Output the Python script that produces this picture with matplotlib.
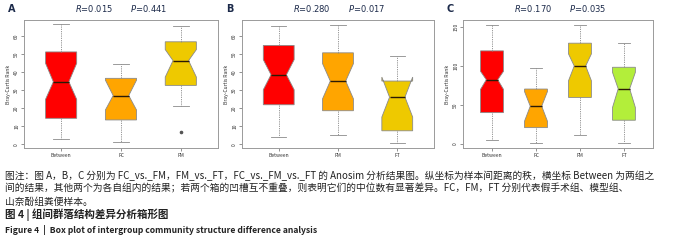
import matplotlib
matplotlib.use("Agg")
import matplotlib.pyplot as plt

plt.rcParams['font.family'] = ['Noto Sans CJK SC', 'DejaVu Sans']

# panel A: FC_vs._FM
a_labels = ["Between", "FC", "FM"]
a_med = [34.6, 27.0, 46.3]
a_q1 = [14.4, 13.5, 32.6]
a_q3 = [51.1, 36.5, 56.7]
a_lo = [2.8, 1.1, 21.0]
a_hi = [66.5, 44.3, 65.4]
a_cilo = [24.9, 19.0, 37.2]
a_cihi = [44.8, 35.5, 52.4]
a_fliers = [[], [], [7.0]]

# panel B: FM_vs._FT
b_labels = ["Between", "FM", "FT"]
b_med = [38.5, 35.0, 26.1]
b_q1 = [21.9, 18.6, 7.5]
b_q3 = [54.7, 50.6, 35.0]
b_lo = [3.9, 5.0, 0.9]
b_hi = [65.2, 66.0, 49.0]
b_cilo = [30.2, 25.2, 15.1]
b_cihi = [46.8, 44.6, 37.2]
b_fliers = [[], [], []]

# panel C: FC_vs._FM_vs._FT
c_labels = ["Between", "FC", "FM", "FT"]
c_med = [82.3, 48.3, 100.0, 70.7]
c_q1 = [40.0, 20.7, 59.5, 30.2]
c_q3 = [119.4, 70.3, 129.3, 98.3]
c_lo = [4.3, 0.4, 11.2, 1.3]
c_hi = [153.0, 97.4, 153.0, 129.3]
c_cilo = [70.0, 29.0, 81.0, 46.5]
c_cihi = [93.0, 67.0, 115.5, 91.8]
c_fliers = [[], [], [], []]

stats_text = [("R=0.015", "P=0.441"), ("R=0.280", "P=0.017"), ("R=0.170", "P=0.035")]
panel_letters = ["A", "B", "C"]

colors = {"Between": "#FF0000", "FC": "#FFA500", "FM": "#EEC900", "FT": "#B3EE3A"}
colors_b = {"Between": "#FF0000", "FM": "#FFA500", "FT": "#EEC900"}

caption = [
    "图注：图 A，B，C 分别为 FC_vs._FM，FM_vs._FT，FC_vs._FM_vs._FT 的 Anosim 分析结果图。纵坐标为样本间距离的秩，横坐标 Between 为两组之",
    "间的结果，其他两个为各自组内的结果；若两个箱的凹槽互不重叠，则表明它们的中位数有显著差异。FC，FM，FT 分别代表假手术组、模型组、",
    "山奈酚组粪便样本。",
]
title_cn = "图 4 | 组间群落结构差异分析箱形图"
title_en = "Figure 4  |  Box plot of intergroup community structure difference analysis"

fig = plt.figure(figsize=(7, 2.45), dpi=100)

panels = [
    (a_labels, a_med, a_q1, a_q3, a_lo, a_hi, a_cilo, a_cihi, a_fliers, colors,
     [0, 10, 20, 30, 40, 50, 60], (-2, 68.7), [0.0343, 0.396, 0.277, 0.522]),
    (b_labels, b_med, b_q1, b_q3, b_lo, b_hi, b_cilo, b_cihi, b_fliers, colors_b,
     [0, 10, 20, 30, 40, 50, 60], (-2, 68.7), [0.3457, 0.396, 0.2743, 0.522]),
    (c_labels, c_med, c_q1, c_q3, c_lo, c_hi, c_cilo, c_cihi, c_fliers, colors,
     [0, 50, 100, 150], (-5.5, 159), [0.6614, 0.396, 0.2714, 0.522]),
]

for i, (labels, med, q1, q3, lo, hi, cilo, cihi, fl, cmap, yt, ylim, rect) in enumerate(panels):
    ax = fig.add_axes(rect)
    stats = []
    for j, lab in enumerate(labels):
        stats.append(dict(label=lab, med=med[j], q1=q1[j], q3=q3[j], whislo=lo[j],
                          whishi=hi[j], cilo=cilo[j], cihi=cihi[j], fliers=fl[j]))
    bp = ax.bxp(stats, positions=range(1, len(labels) + 1), widths=0.52, capwidths=0.26,
                shownotches=True, patch_artist=True,
                boxprops=dict(edgecolor="#8a8a8a", linewidth=0.6),
                medianprops=dict(color="#2a1a05", linewidth=1.0),
                whiskerprops=dict(color="#8a8a8a", linewidth=0.6, linestyle=(0, (1.5, 1.2))),
                capprops=dict(color="#8a8a8a", linewidth=0.6),
                flierprops=dict(marker="o", markersize=1.6, markerfacecolor="#555555",
                                markeredgecolor="#555555"))
    for patch, lab in zip(bp["boxes"], labels):
        patch.set_facecolor(cmap[lab])
    n = len(labels)
    ax.set_xlim(0.5 - 0.04 * n, n + 0.5 + 0.04 * n)
    ax.set_ylim(*ylim)
    ax.set_yticks(yt)
    ax.set_yticklabels([str(v) for v in yt], rotation=90, va="center")
    ax.tick_params(axis="both", labelsize=3.6, length=2, width=0.5, color="#666666",
                   labelcolor="#333333", pad=1.5)
    for s in ax.spines.values():
        s.set_color("#9a9a9a")
        s.set_linewidth(0.7)
    ax.set_ylabel("Bray-Curtis Rank", fontsize=3.6, color="#333333", labelpad=2)
    x0 = rect[0]
    fig.text(x0 - 0.023, 0.95, panel_letters[i], fontsize=7, fontweight="bold",
             color="#1c2a4a", family="DejaVu Sans")
    r, p = stats_text[i]
    fig.text(x0 + 0.073, 0.95, r"$\it{R}$" + r[1:], fontsize=6, color="#1c2a4a",
             family="DejaVu Sans")
    fig.text(x0 + 0.152, 0.95, r"$\it{P}$" + p[1:], fontsize=6, color="#1c2a4a",
             family="DejaVu Sans")

ys = [0.283, 0.231, 0.177]
for line, y in zip(caption, ys):
    fig.text(0.007, y, line, fontsize=7.0, color="#222222", va="center")
fig.text(0.007, 0.122, title_cn, fontsize=7.6, fontweight="bold", color="#222222", va="center")
fig.text(0.007, 0.061, title_en, fontsize=6.2, fontweight="bold", color="#222222", va="center")

fig.savefig("out.png", dpi=100)
